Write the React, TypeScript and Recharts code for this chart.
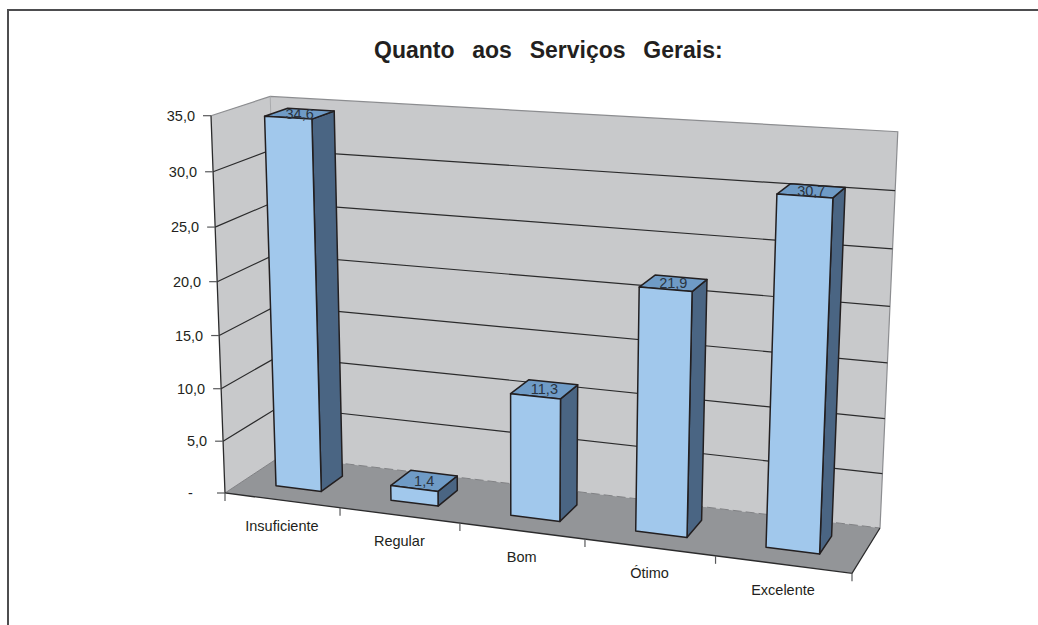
import { BarChart, Bar, XAxis, YAxis, CartesianGrid, LabelList } from 'recharts'

const categories = ['Insuficiente', 'Regular', 'Bom', 'Ótimo', 'Excelente']
const values = [34.6, 1.4, 11.3, 21.9, 30.7]
const yTicks = [0, 5, 10, 15, 20, 25, 30, 35]

const data = categories.map((name, i) => ({ name, value: values[i] }))

// flat plot area, the projection below turns it into the tilted 3D box
const PLOT = { left: 225, top: 115, right: 852, bottom: 493 }
const PLOT_W = PLOT.right - PLOT.left
const PLOT_H = PLOT.bottom - PLOT.top

const G = -0.1013
const H = -0.045
const K = 0.0515
const O = [225, 493]
const UE = [852, 573.3]
const VE = [211, 115.7]
const DE = [281, 456]

// u along the categories, v up the values, d into the depth, all 0..1
const project = (u: number, v: number, d: number): [number, number] => {
    const w = 1 + G * u + H * v + K * d
    const px = (i: number) =>
        O[i] +
        (UE[i] * (1 + G) - O[i]) * u +
        (VE[i] * (1 + H) - O[i]) * v +
        (DE[i] * (1 + K) - O[i]) * d
    return [px(0) / w, px(1) / w]
}

const toU = (x: number) => (x - PLOT.left) / PLOT_W
const toV = (y: number) => (PLOT.bottom - y) / PLOT_H

const poly = (pts: [number, number][]) => pts.map((p) => p.map((n) => n.toFixed(1)).join(',')).join(' ')

const TEXT = '#231f20'
const FONT = '"Liberation Sans", Arial, sans-serif'
const DEPTH_FRONT = 0.3
const DEPTH_BACK = 0.7

const Box = () => {
    const backWall = [project(0, 0, 1), project(1, 0, 1), project(1, 1, 1), project(0, 1, 1)]
    const sideWall = [project(0, 0, 0), project(0, 0, 1), project(0, 1, 1), project(0, 1, 0)]
    const floor = [project(0, 0, 0), project(1, 0, 0), project(1, 0, 1), project(0, 0, 1)]
    return (
        <g>
            <polygon points={poly(backWall)} fill="#c8c9cb" />
            <polygon points={poly(sideWall)} fill="#c8c9cb" />
            <polygon points={poly(floor)} fill="#939598" />
            <polyline
                points={poly([project(0, 1, 0), project(0, 1, 1), project(1, 1, 1), project(1, 0, 1)])}
                fill="none"
                stroke="#8c8d90"
                strokeWidth={1.2}
            />
            <line
                x1={project(0, 1, 1)[0]}
                y1={project(0, 1, 1)[1]}
                x2={project(0, 0, 1)[0]}
                y2={project(0, 0, 1)[1]}
                stroke="#a9aaad"
            />
            <polyline
                points={poly([project(0, 0, 0), project(0, 0, 1)])}
                fill="none"
                stroke="#808184"
            />
            <polyline
                points={poly([project(0, 0, 1), project(1, 0, 1)])}
                fill="none"
                stroke="#808184"
                strokeDasharray="9 4"
            />
            <polyline
                points={poly([project(0, 1, 0), project(0, 0, 0), project(1, 0, 0), project(1, 0, 1)])}
                fill="none"
                stroke="#2b2b2c"
                strokeWidth={1.3}
            />
        </g>
    )
}

const gridLine = (props: any) => {
    const v = toV(props.y1)
    if (v < 0.01 || v > 0.99) return <g key={props.key} />
    return (
        <polyline
            key={props.key}
            points={poly([project(0, v, 0), project(0, v, 1), project(1, v, 1)])}
            fill="none"
            stroke="#2b2b2c"
            strokeWidth={1.2}
        />
    )
}

const Bar3D = (props: any) => {
    const { x, y, width, height } = props
    const u0 = toU(x)
    const u1 = toU(x + width)
    const top = toV(y)
    const bottom = toV(y + height)
    const f = DEPTH_FRONT
    const b = DEPTH_BACK
    const stroke = { stroke: '#231f20', strokeWidth: 1.5, strokeLinejoin: 'round' as const }
    return (
        <g>
            <polygon
                points={poly([project(u1, bottom, f), project(u1, bottom, b), project(u1, top, b), project(u1, top, f)])}
                fill="#4a6583"
                {...stroke}
            />
            <polygon
                points={poly([project(u0, top, f), project(u1, top, f), project(u1, top, b), project(u0, top, b)])}
                fill="#6f9bc6"
                {...stroke}
            />
            <polygon
                points={poly([project(u0, bottom, f), project(u1, bottom, f), project(u1, top, f), project(u0, top, f)])}
                fill="#a1c8ec"
                {...stroke}
            />
        </g>
    )
}

const BarValue = (props: any) => {
    const { x, y, width, value } = props
    const [px, py] = project(toU(x + width / 2), toV(y), 0.5)
    return (
        <text x={px} y={py + 5} textAnchor="middle" fontSize={14.5} fontFamily={FONT} fill="#2a3440">
            {value.toFixed(1).replace('.', ',')}
        </text>
    )
}

const CategoryTick = (props: any) => {
    const { x, payload, index } = props
    const u = toU(x)
    const [px, py] = project(u, 0, 0)
    const marks = index === 0 ? [0, 0.2] : [(index + 1) * 0.2]
    return (
        <g>
            {marks.map((m) => {
                const [mx, my] = project(m, 0, 0)
                return <line key={m} x1={mx} y1={my} x2={mx} y2={my + 8} stroke="#58595b" strokeWidth={1.2} />
            })}
            <text x={px} y={py + 31} textAnchor="middle" fontSize={14.5} fontFamily={FONT} fill={TEXT}>
                {payload.value}
            </text>
        </g>
    )
}

const ValueTick = (props: any) => {
    const { y, payload } = props
    const [px, py] = project(0, toV(y), 0)
    const label = payload.value === 0 ? '-\u00a0\u00a0\u00a0\u00a0' : payload.value.toFixed(1).replace('.', ',')
    return (
        <g>
            <line x1={px - 8} y1={py} x2={px} y2={py} stroke="#58595b" strokeWidth={1.2} />
            <text x={px - 16} y={py + 5} textAnchor="end" fontSize={14.5} fontFamily={FONT} fill={TEXT}>
                {label}
            </text>
        </g>
    )
}

const App = () => {
    return (
        <div style={{ position: 'absolute', left: 0, top: 0, width: 1038, height: 625, overflow: 'hidden' }}>
            <div
                style={{
                    position: 'absolute',
                    left: 7,
                    top: 9,
                    width: 1100,
                    height: 640,
                    border: '2px solid #4d4d4f',
                }}
            />
            <div
                style={{
                    position: 'absolute',
                    left: 374,
                    top: 37,
                    fontFamily: FONT,
                    fontWeight: 'bold',
                    fontSize: 23,
                    wordSpacing: 2.5,
                    color: TEXT,
                    whiteSpace: 'pre',
                }}
            >
                Quanto  aos  Serviços  Gerais:
            </div>
            <BarChart
                width={1038}
                height={625}
                data={data}
                barCategoryGap="30%"
                margin={{ top: PLOT.top, right: 1038 - PLOT.right, bottom: 625 - PLOT.bottom - 30, left: PLOT.left - 60 }}
            >
                <Box />
                <CartesianGrid vertical={false} horizontal={gridLine} zIndex={100} />
                <XAxis dataKey="name" height={30} axisLine={false} tickLine={false} tick={<CategoryTick />} interval={0} />
                <YAxis
                    width={60}
                    domain={[0, 35]}
                    ticks={yTicks}
                    axisLine={false}
                    tickLine={false}
                    tick={<ValueTick />}
                    interval={0}
                />
                <Bar dataKey="value" isAnimationActive={false} shape={<Bar3D />}>
                    <LabelList dataKey="value" content={<BarValue />} />
                </Bar>
            </BarChart>
        </div>
    )
}

export default App
